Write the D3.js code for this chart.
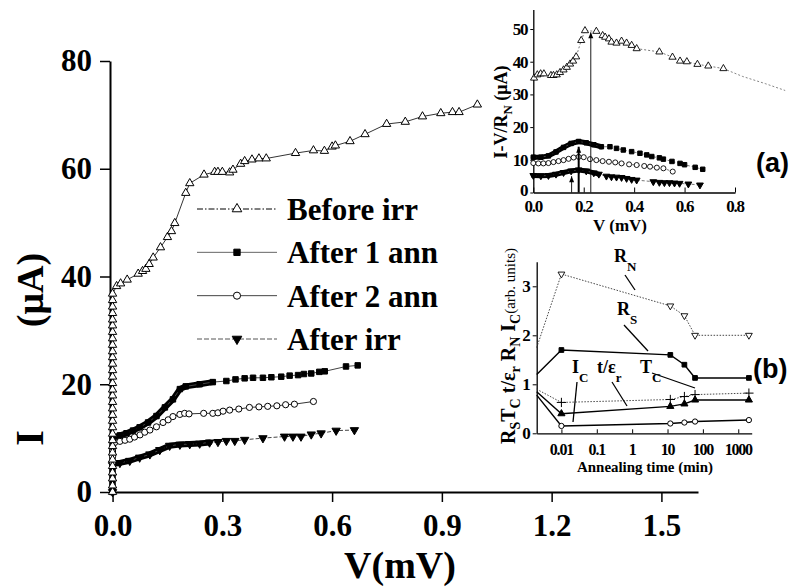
<!DOCTYPE html>
<html>
<head>
<meta charset="utf-8">
<script src="https://cdn.jsdelivr.net/npm/d3@7"></script>
<style>
body { margin: 0; background: #fff; }
svg text { font-family: "Liberation Serif", "Times New Roman", serif; font-weight: bold; fill: #000; }
.axis path, .axis line { stroke: #000; }
</style>
</head>
<body>
<svg id="chart" width="791" height="588"></svg>
<script>
// ---------- main panel: I(V) ----------
let mainXTicks = [0.0, 0.3, 0.6, 0.9, 1.2, 1.5];
let mainYTicks = [0, 20, 40, 60, 80];
let legendNames = ["Before irr", "After 1 ann", "After 2 ann", "After irr"];

let beforeV = [0,0,0,0,0,0,0,0,0,0,0,0,0,0,0,0,0,0,0,0,0,0,0,0,0,0,0,0,0,0,0,0,
    0.011,0.022,0.04,0.07,0.082,0.091,0.1,0.111,0.131,0.15,0.161,0.17,0.2,0.211,0.25,0.279,0.288,0.3,0.32,0.329,
    0.35,0.361,0.381,0.4,0.42,0.5,0.549,0.579,0.6,0.609,0.649,0.69,0.749,0.8,0.847,0.897,0.929,0.947,0.997];
let beforeI = [0,1.2,2.5,3.6,4.8,6,7.3,8.5,9.6,10.8,12,13.2,14.3,15.5,16.7,17.9,19,20.2,21.4,22.6,23.8,25,26.1,27.3,28.5,29.7,30.9,32,33.2,34.4,35.6,36.8,
    38.2,38.7,39.4,40.5,41,41.4,42.3,43.5,45.4,47.3,48.4,49.9,55.5,57.3,58.9,59.4,59.4,59.4,59.3,59.8,
    60.9,61.4,61.7,61.9,61.9,62.9,63.4,63.3,64.1,64.3,65.1,66.4,68.3,68.7,69.7,70.3,70.5,70.5,71.9];

let ann1DenseV = [0,0,0.002,0.02,0.038,0.056,0.074,0.097,0.12,0.143,0.165,0.184,0.2,0.238,0.274];
let ann1DenseI = [0,10,10.1,10.5,10.9,11.4,12.0,12.9,14.1,15.7,17.2,19.1,19.6,20.0,20.4];
let ann1V = [0.311,0.336,0.361,0.384,0.411,0.434,0.461,0.484,0.507,0.523,0.543,0.565,0.58,0.638,0.67];
let ann1I = [20.6,20.9,21.1,21.2,21.2,21.3,21.4,21.6,21.7,21.9,22.0,22.3,22.4,23.3,23.5];

let ann2V = [0,0,0,0,0.006,0.02,0.034,0.047,0.06,0.075,0.088,0.102,0.12,0.138,0.152,0.165,0.184,0.197,0.209,
    0.249,0.274,0.288,0.302,0.32,0.345,0.374,0.4,0.424,0.449,0.473,0.497,0.549];
let ann2I = [5.5,6.6,7.6,8.4,9.2,9.4,9.6,9.8,10.2,10.6,11.1,11.5,12.1,12.9,13.4,14.0,14.4,14.6,14.5,
    14.6,14.6,14.7,15.0,15.2,15.4,15.7,15.8,15.9,16.0,16.2,16.3,16.8];

let irrDenseV = [0,0,0.002,0.02,0.047,0.074,0.102,0.129,0.156,0.184,0.211,0.238,0.265];
let irrDenseI = [0,5,5.2,5.4,5.8,6.4,7.0,7.8,8.6,8.8,8.9,9.0,9.2];
let irrV = [0.288,0.311,0.334,0.361,0.411,0.47,0.493,0.515,0.543,0.57,0.611,0.661];
let irrI = [9.3,9.5,9.5,9.7,10.0,10.3,10.3,10.3,10.7,10.9,11.4,11.5];

// ---------- inset (a): I - V/RN ----------
let aXTicks = [0.0, 0.2, 0.4, 0.6, 0.8];
let aYTicks = [0, 10, 20, 30, 40, 50];
let aBeforeV = [0.003,0.016,0.029,0.042,0.07,0.08,0.093,0.106,0.12,0.133,0.146,0.158,0.17,0.19,0.205,0.25,0.275,0.285,
    0.3,0.31,0.33,0.35,0.37,0.39,0.41,0.5,0.552,0.582,0.609,0.651,0.694,0.754];
let aBeforeI = [35,36,36.3,36.3,35.8,35.8,36,36.7,37.5,38.3,39.3,40.2,41.5,46.5,49.5,49.3,48,47.5,
    47,46,45.7,46.3,45.7,45,44,43,41.4,40.2,40,39.2,38.7,37.9];
let aTailV = [0.754,0.83,0.92,0.999];
let aTailI = [37.9,35.5,33.3,31.2];
let aAnn1DenseV = [0,0.03,0.06,0.09,0.12,0.15,0.18,0.21,0.24,0.27];
let aAnn1DenseI = [10.8,10.8,11.2,12.4,13.8,15.0,15.6,15.2,14.6,14.0];
let aAnn1V = [0.304,0.33,0.357,0.39,0.423,0.45,0.47,0.5,0.516,0.55,0.582,0.6,0.642,0.672];
let aAnn1I = [14.0,13.5,13.0,12.5,12.0,11.5,11.0,10.6,10.2,9.5,8.9,8.5,7.7,7.1];
let aAnn2V = [0,0.02,0.04,0.06,0.08,0.1,0.12,0.14,0.16,0.18,0.2,0.225,0.25,0.275,0.3,0.325,0.35,0.38,0.41,0.44,0.463,0.49,0.516,0.553];
let aAnn2I = [9.0,8.9,8.9,9.0,9.3,9.6,9.9,10.3,10.7,10.9,10.8,10.2,9.9,9.6,9.4,9.2,8.9,8.6,8.4,8.1,7.9,7.6,7.4,6.4];
let aIrrDenseV = [0,0.03,0.06,0.09,0.12,0.15,0.18,0.21,0.24,0.26];
let aIrrDenseI = [5.2,5.1,5.2,5.6,6.1,6.6,6.9,6.6,6.0,5.6];
let aIrrV = [0.29,0.31,0.33,0.35,0.37,0.39,0.41,0.476,0.5,0.52,0.54,0.56,0.58,0.615,0.661];
let aIrrI = [5.0,4.8,4.7,4.6,4.3,4.0,3.8,3.3,3.1,3.0,3.0,2.9,2.8,2.6,2.3];
let arrowV = [0.152, 0.18, 0.228];
let arrowTop = [5, 14, 49];

// ---------- inset (b): annealing ----------
let bXTicks = [0.01, 0.1, 1, 10, 100, 1000];
let bXLabels = ["0.01", "0.1", "1", "10", "100", "1000"];
let bYTicks = [0, 1, 2, 3];
let annTime = [0.002, 0.01, 12, 30, 60, 2000];
let RN = [1.75, 3.25, 2.6, 2.4, 2.0, 2.0];
let RS = [1.2, 1.7, 1.6, 1.4, 1.13, 1.13];
let TC = [0.85, 0.4, 0.55, 0.6, 0.68, 0.68];
let tEr = [0.9, 0.63, 0.69, 0.75, 0.79, 0.82];
let IC = [0.78, 0.15, 0.2, 0.22, 0.24, 0.27];

let svg = d3.select("#chart");

function drawSeries(g, xs, ys, V, I, opt) {
    let pts = V.map((v, i) => [xs(v), ys(I[i])]);
    if (opt.line) {
        g.append("path")
            .attr("d", d3.line()(pts))
            .attr("fill", "none")
            .attr("stroke", opt.line)
            .attr("stroke-width", opt.lw || 1)
            .attr("stroke-dasharray", opt.dash || null);
    }
    if (opt.sym) {
        g.append("g").selectAll("path")
            .data(opt.skipFirst ? pts.slice(1) : pts)
            .join("path")
            .attr("transform", d => "translate(" + d[0] + "," + d[1] + ")" + (opt.down ? " rotate(180)" : ""))
            .attr("d", d3.symbol(opt.sym, opt.size)())
            .attr("fill", opt.fill)
            .attr("stroke", "#000")
            .attr("stroke-width", opt.sw || 1);
    }
}

function thick(g, xs, ys, V, I, w) {
    g.append("path")
        .attr("d", d3.line()(V.map((v, i) => [xs(v), ys(I[i])])))
        .attr("fill", "none")
        .attr("stroke", "#000")
        .attr("stroke-width", w)
        .attr("stroke-linecap", "round")
        .attr("stroke-linejoin", "round");
}

// ================= main panel =================
let x = d3.scaleLinear().domain([-0.007, 1.6]).range([110, 698]);
let y = d3.scaleLinear().domain([0, 80]).range([492, 61]);

let gx = svg.append("g").attr("class", "axis").attr("transform", "translate(0,492)");
gx.call(d3.axisBottom(x).tickValues([0.15, 0.45, 0.75, 1.05, 1.35]).tickSize(5).tickFormat(""))
gx.call(d3.axisBottom(x).tickValues(mainXTicks).tickSize(10).tickSizeOuter(0).tickPadding(12).tickFormat(d3.format(".1f")));
gx.select(".domain").attr("stroke-width", 2);
gx.selectAll("line").attr("stroke-width", 1.5);
gx.selectAll("text").style("font-size", "31px");

let gy = svg.append("g").attr("class", "axis").attr("transform", "translate(110,0)");
gy.call(d3.axisLeft(y).tickValues([10, 30, 50, 70]).tickSize(5).tickFormat(""));
gy.call(d3.axisLeft(y).tickValues(mainYTicks).tickSize(10).tickSizeOuter(0).tickPadding(8));
gy.selectAll(".domain").attr("stroke-width", 2);
gy.selectAll("line").attr("stroke-width", 1.5);
gy.selectAll("text").style("font-size", "31px");

svg.append("text").attr("x", 400).attr("y", 578).attr("text-anchor", "middle")
    .style("font-size", "38px").text("V(mV)");
svg.append("text").attr("transform", "translate(43,438) rotate(-90)").attr("text-anchor", "middle")
    .style("font-size", "40px").text("I");
svg.append("text").attr("transform", "translate(43,290) rotate(-90)").attr("text-anchor", "middle")
    .style("font-size", "38px").text("(μA)");

let gm = svg.append("g");
thick(gm, x, y, ann1DenseV, ann1DenseI, 6);
thick(gm, x, y, irrDenseV, irrDenseI, 6);
drawSeries(gm, x, y, ann1DenseV.concat(ann1V), ann1DenseI.concat(ann1I), {line: "#444", sym: d3.symbolSquare, size: 30, fill: "#000"});
drawSeries(gm, x, y, irrDenseV.concat(irrV), irrDenseI.concat(irrI), {line: "#444", dash: "4,2", sym: d3.symbolTriangle, size: 30, fill: "#000", down: true});
drawSeries(gm, x, y, ann2V, ann2I, {line: "#000", lw: 0.8, sym: d3.symbolCircle, size: 30, fill: "#fff"});
drawSeries(gm, x, y, beforeV, beforeI, {line: "#000", lw: 0.8, sym: d3.symbolTriangle, size: 30, fill: "#fff"});

// legend
let legRows = d3.scaleLinear().domain([0, 3]).range([209, 339]);
let legSyms = [
    {sym: d3.symbolTriangle, fill: "#fff", dash: "6,2,1.5,2", line: "#000"},
    {sym: d3.symbolSquare, fill: "#000", dash: null, line: "#666"},
    {sym: d3.symbolCircle, fill: "#fff", dash: null, line: "#444"},
    {sym: d3.symbolTriangle, fill: "#000", dash: "5,2", line: "#555", down: true}
];
legendNames.forEach(function(name, i) {
    let ly = legRows(i);
    svg.append("line").attr("x1", 197).attr("x2", 277).attr("y1", ly).attr("y2", ly)
        .attr("stroke", legSyms[i].line).attr("stroke-width", 1).attr("stroke-dasharray", legSyms[i].dash);
    svg.append("path").attr("transform", "translate(237," + ly + ")" + (legSyms[i].down ? " rotate(180)" : ""))
        .attr("d", d3.symbol(legSyms[i].sym, 40)())
        .attr("fill", legSyms[i].fill).attr("stroke", "#000").attr("stroke-width", 1);
    svg.append("text").attr("x", 287).attr("y", ly + 11).style("font-size", "31px").text(name);
});

// ================= inset (a) =================
let xa = d3.scaleLinear().domain([0, 0.8]).range([533.3, 735]);
let ya = d3.scaleLinear().domain([0, 56]).range([192.5, 9.4]);

let gax = svg.append("g").attr("class", "axis").attr("transform", "translate(0,192.5)");
gax.call(d3.axisTop(xa).tickValues([0.1, 0.3, 0.5, 0.7]).tickSize(3).tickFormat(""));
gax.call(d3.axisTop(xa).tickValues(aXTicks).tickSize(5).tickSizeOuter(0).tickFormat(""));
gax.selectAll("text").remove();
gax.select(".domain").attr("stroke-width", 1.3);
svg.append("g").selectAll("text").data(aXTicks).join("text")
    .attr("x", d => xa(d)).attr("y", 212).attr("text-anchor", "middle")
    .style("font-size", "17px").style("letter-spacing", "-1.2px").text(d3.format(".1f"));

let gay = svg.append("g").attr("class", "axis").attr("transform", "translate(533.3,0)");
gay.call(d3.axisLeft(ya).tickValues(aYTicks).tickSize(3).tickSizeOuter(0).tickPadding(3));
gay.select(".domain").attr("stroke-width", 1.3);
gay.selectAll("text").style("font-size", "17px").style("letter-spacing", "-1.2px");
gay.selectAll(".tick text").filter(d => d === 0).attr("dy", "0.2em");

svg.append("text").attr("x", 620).attr("y", 231).attr("text-anchor", "middle")
    .style("font-size", "17px").text("V (mV)");
let aLab = svg.append("text").attr("transform", "translate(507,112) rotate(-90)").attr("text-anchor", "middle")
    .style("font-size", "18px");
aLab.append("tspan").text("I-V/R");
aLab.append("tspan").attr("dy", 5).style("font-size", "13px").text("N");
aLab.append("tspan").attr("dy", -5).text(" (μA)");
svg.append("text").attr("x", 756).attr("y", 172)
    .style("font-family", "'Liberation Sans', Arial, sans-serif").style("font-size", "27px").text("(a)");

let ga = svg.append("g");
thick(ga, xa, ya, aAnn1DenseV, aAnn1DenseI, 5);
thick(ga, xa, ya, aIrrDenseV, aIrrDenseI, 5);
drawSeries(ga, xa, ya, aAnn1DenseV.concat(aAnn1V), aAnn1DenseI.concat(aAnn1I), {line: "#555", dash: "3,2", lw: 0.8, sym: d3.symbolSquare, size: 20, fill: "#000"});
drawSeries(ga, xa, ya, aIrrDenseV.concat(aIrrV), aIrrDenseI.concat(aIrrI), {line: "#555", dash: "3,2", lw: 0.8, sym: d3.symbolTriangle, size: 20, fill: "#000", down: true});
drawSeries(ga, xa, ya, aAnn2V, aAnn2I, {line: "#555", dash: "3,2", lw: 0.8, sym: d3.symbolCircle, size: 20, fill: "#fff", sw: 0.9});
drawSeries(ga, xa, ya, aTailV, aTailI, {line: "#666", dash: "2,2", lw: 0.8});
drawSeries(ga, xa, ya, aBeforeV, aBeforeI, {line: "#555", dash: "2,2", lw: 0.8, sym: d3.symbolTriangle, size: 22, fill: "#fff", sw: 0.9});

// arrows in (a)
arrowV.forEach(function(v, i) {
    let ax = xa(v), top = ya(arrowTop[i]);
    svg.append("line").attr("x1", ax).attr("x2", ax).attr("y1", ya(0)).attr("y2", top)
        .attr("stroke", "#000").attr("stroke-width", i === 1 ? 2 : 0.9);
    svg.append("path").attr("d", "M" + (ax - 2.5) + "," + (top + 6) + "L" + ax + "," + top + "L" + (ax + 2.5) + "," + (top + 6) + "Z")
        .attr("fill", "#000");
});

// ================= inset (b) =================
let xb = d3.scaleLog().domain([0.002, 2400]).range([536.7, 751.7]);
let yb = d3.scaleLinear().domain([0, 3.5]).range([433.3, 261.8]);

let gbx = svg.append("g").attr("class", "axis").attr("transform", "translate(0,433.3)");
gbx.call(d3.axisTop(xb).tickValues(xb.ticks().filter(t => t > 0.002)).tickSize(2).tickFormat(""));
gbx.call(d3.axisTop(xb).tickValues(bXTicks).tickSize(4).tickSizeOuter(0).tickFormat(""));
gbx.select(".domain").attr("stroke-width", 1.3);
svg.append("g").selectAll("text").data(bXTicks).join("text")
    .attr("x", d => xb(d)).attr("y", 455).attr("text-anchor", "middle")
    .style("font-size", "16px").style("letter-spacing", "-1.2px").text((d, i) => bXLabels[i]);

let gby = svg.append("g").attr("class", "axis").attr("transform", "translate(536.7,0)");
gby.call(d3.axisLeft(yb).tickValues([0.5, 1.5, 2.5]).tickSize(2).tickFormat(""));
gby.call(d3.axisLeft(yb).tickValues(bYTicks).tickSize(4).tickSizeOuter(0).tickPadding(2).tickFormat(d3.format("d")));
gby.select(".domain").attr("stroke-width", 1.3);
gby.selectAll("text").style("font-size", "17px");

svg.append("text").attr("x", 645).attr("y", 472).attr("text-anchor", "middle")
    .attr("textLength", 136).attr("lengthAdjust", "spacingAndGlyphs")
    .style("font-size", "14px").text("Annealing time  (min)");

// rotated y label of (b): main letters with subscripts
let bLab = svg.append("text").attr("transform", "translate(515,444) rotate(-90)")
    .style("font-size", "20px");
let bParts = [["R", "S"], ["T", "C"], [" t/ε", "r"], [" R", "N"], [" I", "C"]];
bParts.forEach(function(p, i) {
    bLab.append("tspan").attr("dy", i === 0 ? 0 : -5).text(p[0]);
    bLab.append("tspan").attr("dy", 5).style("font-size", "14px").text(p[1]);
});
bLab.append("tspan").attr("dy", -5).style("font-size", "15px").style("font-weight", "normal").text("(arb. units)");

svg.append("text").attr("x", 753).attr("y", 378)
    .style("font-family", "'Liberation Sans', Arial, sans-serif").style("font-size", "27px").text("(b)");

let gb = svg.append("g");
drawSeries(gb, xb, yb, annTime, RN, {line: "#333", dash: "1.5,1.5", lw: 0.9, sym: d3.symbolTriangle, size: 20, fill: "#fff", down: true, skipFirst: true, sw: 0.9});
drawSeries(gb, xb, yb, annTime, RS, {line: "#000", lw: 1.4, sym: d3.symbolSquare, size: 22, fill: "#000", skipFirst: true});
drawSeries(gb, xb, yb, annTime, TC, {line: "#000", lw: 1.4, sym: d3.symbolTriangle, size: 22, fill: "#000", skipFirst: true});
drawSeries(gb, xb, yb, annTime, tEr, {line: "#333", dash: "1.5,1.5", lw: 0.9, sym: d3.symbolPlus, size: 30, fill: "none", skipFirst: true});
drawSeries(gb, xb, yb, annTime, IC, {line: "#000", lw: 1.4, sym: d3.symbolCircle, size: 22, fill: "#fff", skipFirst: true});

// curve labels with leader lines
let bNotes = [
    {t: "R", s: "N", x: 614, y: 262, x1: 625, y1: 275, x2: 635, y2: 290},
    {t: "R", s: "S", x: 617, y: 315, x1: 624, y1: 325, x2: 648, y2: 351},
    {t: "T", s: "C", x: 640, y: 373, x1: 652, y1: 373, x2: 695, y2: 388},
    {t: "t/ε", s: "r", x: 597, y: 373, x1: 612, y1: 382, x2: 627, y2: 406},
    {t: "I", s: "C", x: 572, y: 373, x1: 577, y1: 382, x2: 573, y2: 422}
];
bNotes.forEach(function(n) {
    let tx = svg.append("text").attr("x", n.x).attr("y", n.y).style("font-size", "18px");
    tx.append("tspan").text(n.t);
    tx.append("tspan").attr("dy", 9).style("font-size", "13px").text(n.s);
    svg.append("line").attr("x1", n.x1).attr("y1", n.y1).attr("x2", n.x2).attr("y2", n.y2)
        .attr("stroke", "#000").attr("stroke-width", 1.3);
});
</script>
</body>
</html>
